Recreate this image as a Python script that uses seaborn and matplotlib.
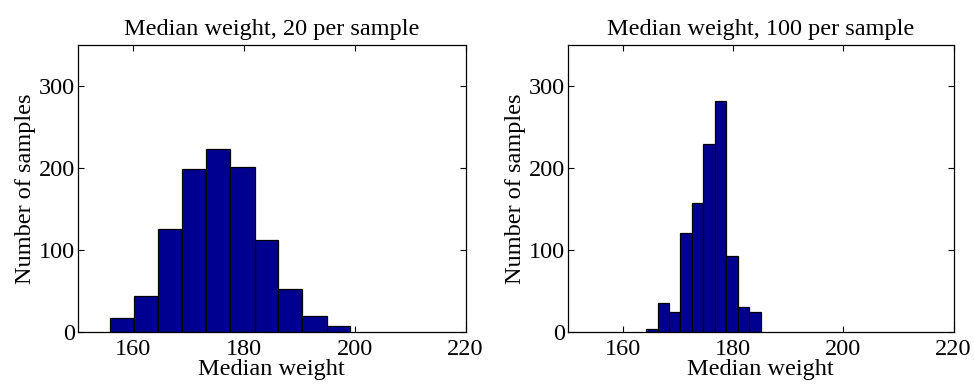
import numpy as np
import matplotlib
matplotlib.use("Agg")
import matplotlib.pyplot as plt
import seaborn as sns

# Histogram counts (1000 samples each)
counts_20 = [17, 44, 125, 199, 223, 201, 112, 52, 19, 7]
edges_20 = [155.8, 160.1, 164.5, 168.8, 173.2, 177.5, 181.9, 186.2, 190.5, 194.9, 199.2]

counts_100 = [4, 35, 24, 121, 157, 229, 282, 93, 31, 24]
edges_100 = [164.2, 166.3, 168.4, 170.4, 172.5, 174.6, 176.7, 178.7, 180.8, 182.9, 185.0]

titles = ["Median weight, 20 per sample", "Median weight, 100 per sample"]
xticks = [160, 180, 200, 220]
yticks = [0, 100, 200, 300]

sns.set_style("ticks")
plt.rcParams["font.family"] = ["Liberation Serif", "DejaVu Serif"]
plt.rcParams["text.color"] = "black"
plt.rcParams["axes.labelcolor"] = "black"

fig = plt.figure(figsize=(9.74, 3.86), dpi=100)
axes = [fig.add_axes([0.080, 0.140, 0.398, 0.744]),
        fig.add_axes([0.583, 0.140, 0.396, 0.744])]

for ax, counts, edges, title in zip(axes, [counts_20, counts_100],
                                    [edges_20, edges_100], titles):
    centers = [(a + b) / 2 for a, b in zip(edges[:-1], edges[1:])]
    sns.histplot(x=centers, weights=counts, bins=edges, ax=ax,
                 color="#000090", edgecolor="black", linewidth=0.9, alpha=1)
    ax.set_xlim(150, 220)
    ax.set_ylim(0, 350)
    ax.set_xticks(xticks)
    ax.set_yticks(yticks)
    ax.tick_params(direction="in", length=4, width=0.8, top=True, right=True,
                   labelsize=17.5, colors="black")
    ax.tick_params(axis="x", pad=5)
    ax.tick_params(axis="y", pad=2)
    for s in ax.spines.values():
        s.set_visible(True)
        s.set_linewidth(0.9)
        s.set_color("black")
    ax.set_title(title, fontsize=17.5, pad=7, color="black")
    ax.set_xlabel("Median weight", fontsize=17.5, labelpad=-1, color="black")
    ax.set_ylabel("Number of samples", fontsize=17.5, labelpad=2, color="black")
    ax.grid(False)

fig.savefig("out.png", dpi=100)
